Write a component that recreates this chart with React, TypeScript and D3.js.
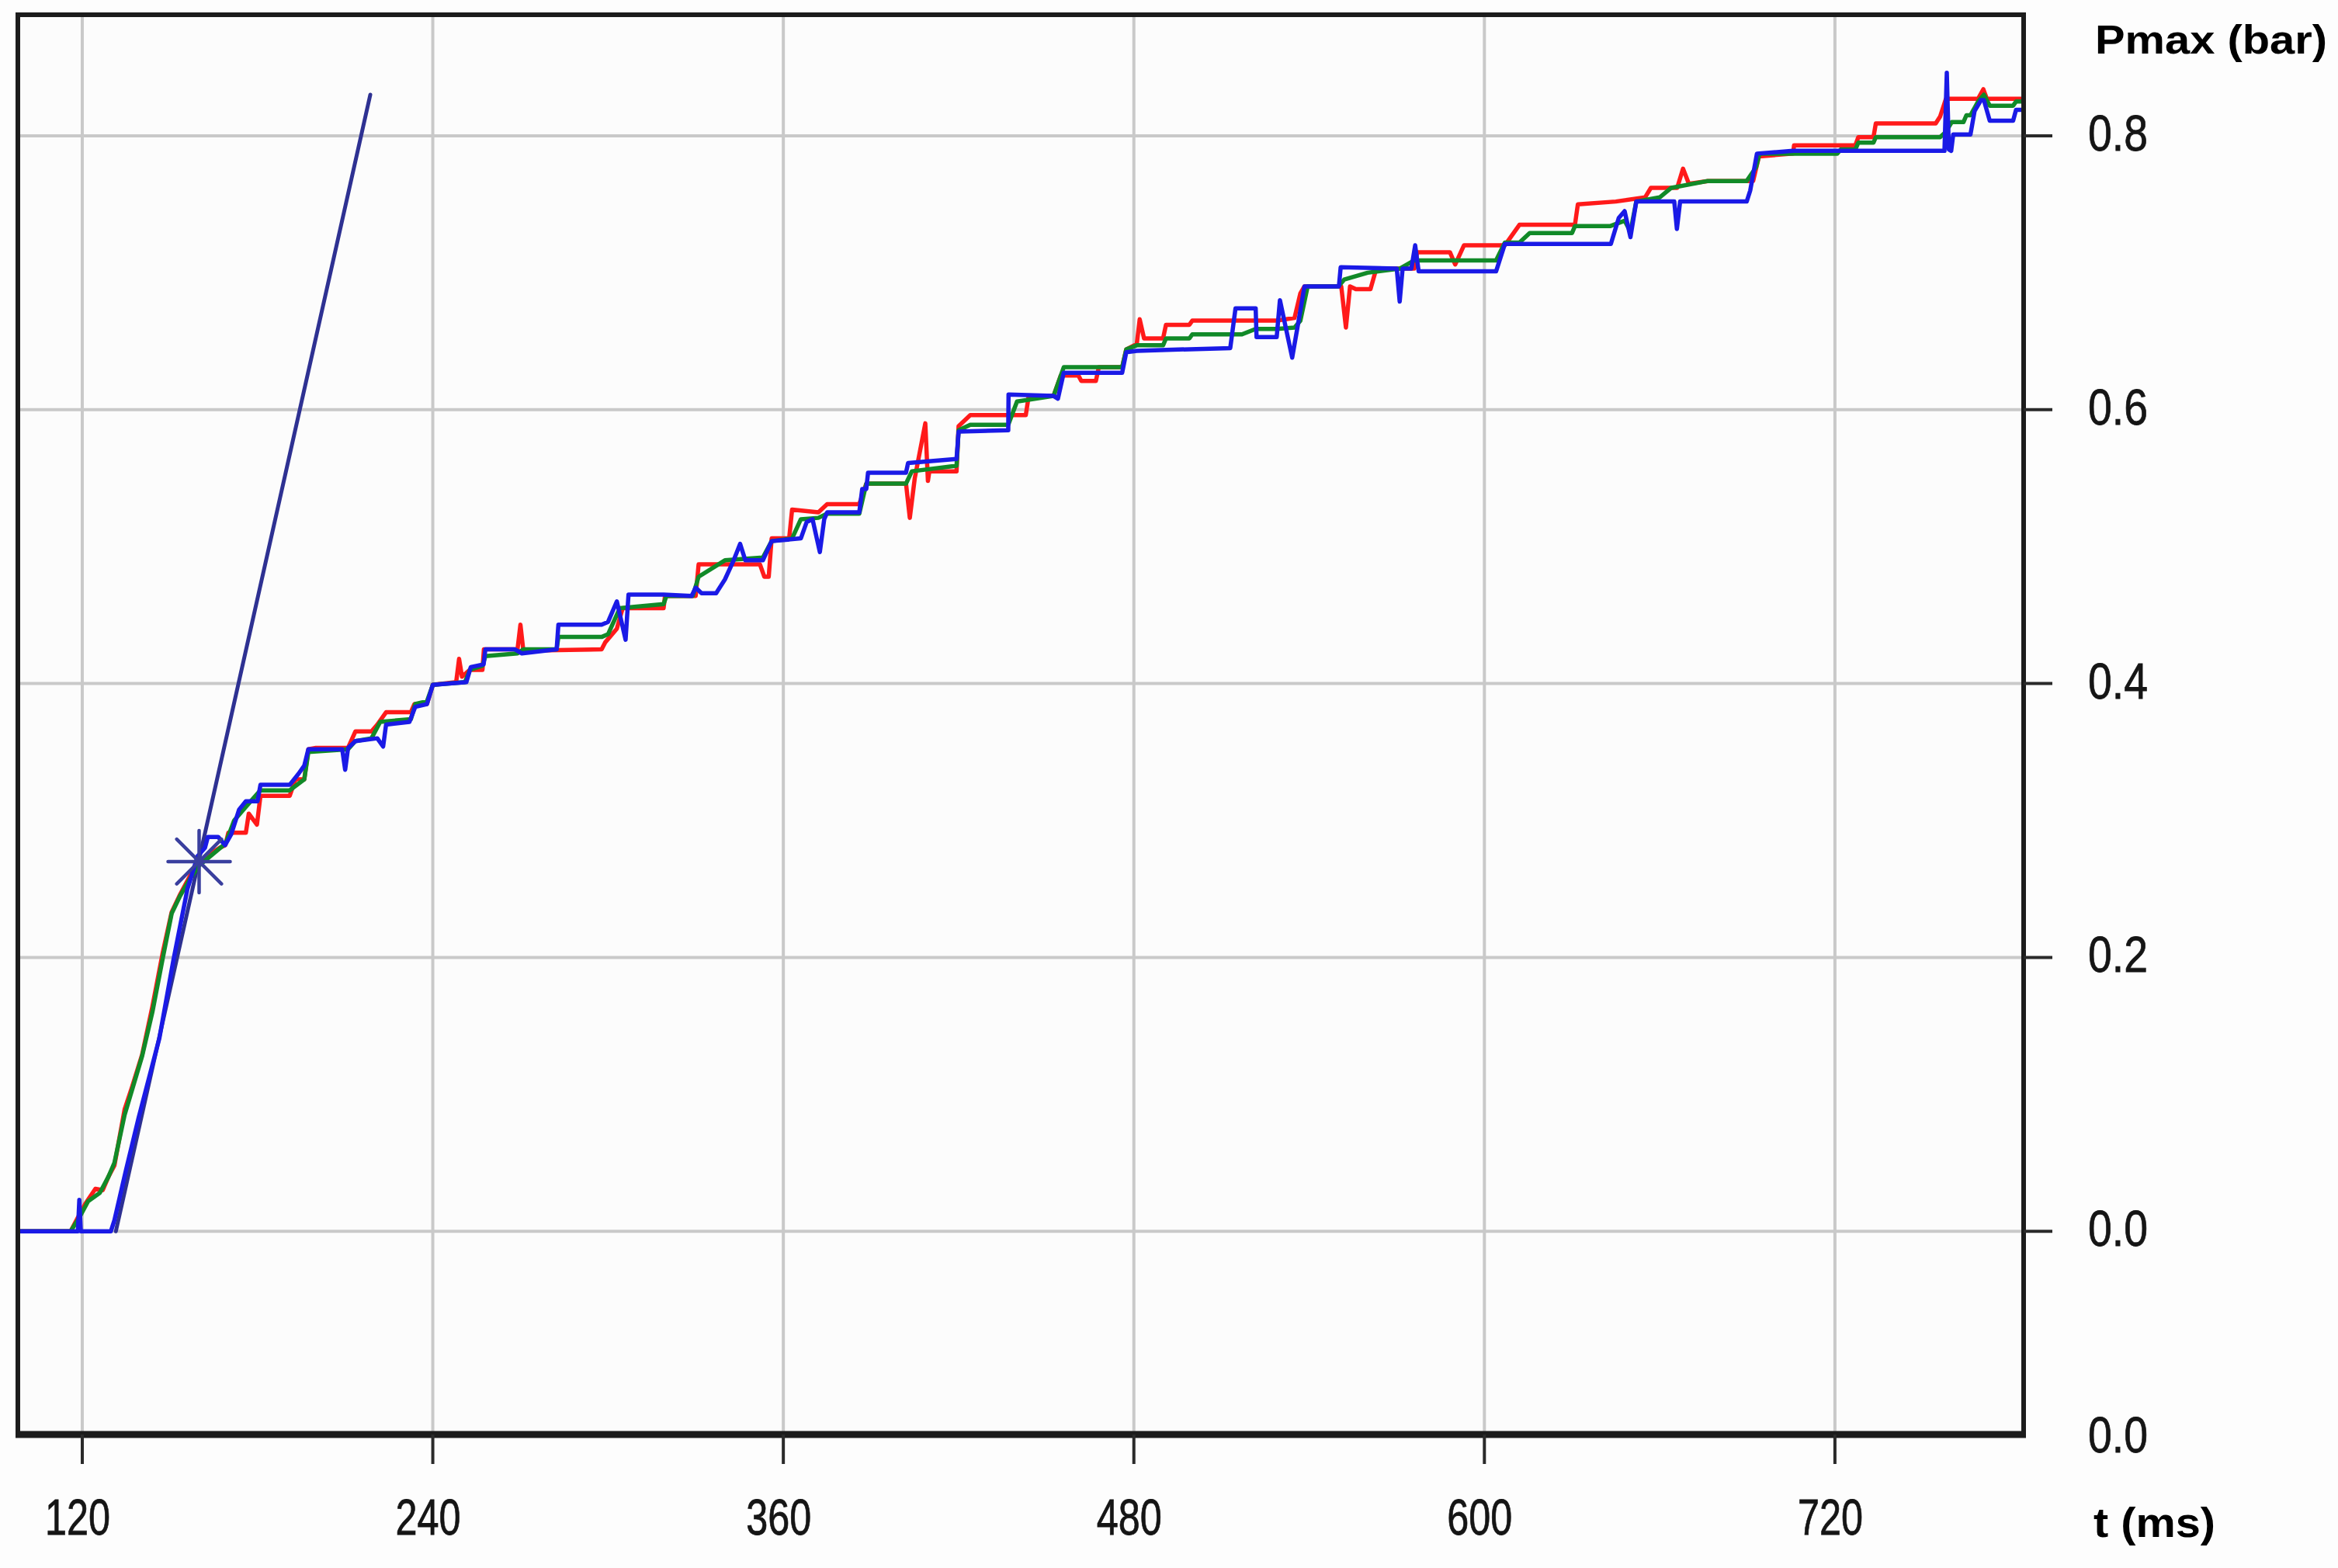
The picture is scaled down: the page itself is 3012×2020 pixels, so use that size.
import React from 'react';
import * as d3 from 'd3';

type Pt = [number, number];

const xTicks = [120, 240, 360, 480, 600, 720];
const yTicks = [0, 0.2, 0.4, 0.6, 0.8];
const yTickLabels = ['0.0', '0.2', '0.4', '0.6', '0.8'];
const bottomLabel = '0.0';
const xTitle = 't (ms)';
const yTitle = 'Pmax (bar)';

const redSeries: Pt[] = [
  [98, 0], [116, 0], [118, 0.008], [121, 0.02], [124.5, 0.031], [127, 0.03], [129, 0.04], [131, 0.048],
  [134.5, 0.089], [137, 0.105], [140.5, 0.129], [144, 0.164], [147.6, 0.204], [150.6, 0.233], [153.5, 0.246],
  [157, 0.26], [160, 0.268], [164, 0.276], [167, 0.28], [169, 0.282], [170, 0.291], [176, 0.291], [177, 0.305],
  [179.8, 0.297], [181, 0.318], [191, 0.318], [193, 0.33], [196, 0.33], [197.4, 0.352], [200, 0.353], [211, 0.353],
  [213.5, 0.365], [219, 0.365], [221, 0.37], [224, 0.379], [232.5, 0.379], [233.7, 0.385], [238, 0.385], [240, 0.399],
  [248, 0.401], [249, 0.418], [250, 0.405], [252.7, 0.41], [257, 0.41], [257.5, 0.425], [269, 0.425], [270, 0.443],
  [271, 0.424], [297.8, 0.425], [299, 0.43], [303, 0.44], [305, 0.455], [319, 0.455], [319.5, 0.464], [330, 0.464],
  [331, 0.487], [352, 0.487], [353.5, 0.478], [355, 0.478], [356, 0.506], [362, 0.506], [363, 0.527], [372, 0.525],
  [375, 0.531], [386, 0.531], [388.4, 0.546], [402, 0.546], [403.3, 0.521], [405, 0.55], [408.6, 0.59], [409.5, 0.548],
  [410, 0.555], [419.3, 0.555], [420, 0.588], [424, 0.596], [443, 0.596], [444, 0.61], [452.5, 0.61], [455, 0.625],
  [461, 0.625], [462, 0.621], [467, 0.621], [468, 0.631], [476, 0.631], [477.4, 0.644], [481, 0.648], [482, 0.666],
  [483.5, 0.652], [490, 0.652], [491, 0.662], [499, 0.662], [500, 0.665], [528.9, 0.665], [535, 0.667], [537, 0.685],
  [538.4, 0.69], [551, 0.69], [552.6, 0.66], [554, 0.69], [556, 0.688], [561, 0.688], [563, 0.703], [576, 0.703],
  [577, 0.715], [588.2, 0.715], [590, 0.706], [593, 0.72], [607, 0.72], [612, 0.735], [631, 0.735], [632, 0.75],
  [645, 0.752], [655, 0.755], [657, 0.762], [666, 0.762], [668, 0.776], [670, 0.765], [676.5, 0.767], [692, 0.767],
  [694, 0.785], [705.7, 0.787], [706, 0.793], [727, 0.793], [728, 0.799], [733.2, 0.799], [734, 0.809], [754.5, 0.809],
  [756, 0.814], [758, 0.827], [769, 0.827], [770.8, 0.834], [772, 0.827], [785, 0.827],
];

const greenSeries: Pt[] = [
  [98, 0], [116, 0], [119, 0.01], [122, 0.022], [126, 0.028], [129, 0.04], [131, 0.05], [134.5, 0.085],
  [140.5, 0.128], [144, 0.16], [147.6, 0.2], [150.6, 0.232], [153.5, 0.245], [157, 0.258], [160, 0.267], [165, 0.276],
  [169, 0.283], [172, 0.3], [176, 0.31], [181, 0.322], [191, 0.322], [196, 0.33], [197.4, 0.35], [211, 0.352],
  [213.5, 0.358], [219, 0.36], [222, 0.372], [232.5, 0.374], [234, 0.385], [238, 0.387], [240, 0.399], [251, 0.401],
  [252.7, 0.41], [257, 0.413], [258, 0.42], [269, 0.422], [271, 0.425], [282.4, 0.425], [283, 0.434], [297.8, 0.434],
  [300, 0.436], [304, 0.455], [319, 0.458], [320, 0.464], [329, 0.464], [331, 0.478], [340, 0.49], [353, 0.492],
  [356, 0.504], [363, 0.506], [366, 0.52], [372, 0.521], [375, 0.524], [386, 0.524], [388.4, 0.546], [402, 0.546],
  [404, 0.555], [419.3, 0.559], [420, 0.585], [424, 0.589], [437, 0.589], [440, 0.606], [452.5, 0.61], [456, 0.631],
  [476, 0.631], [477.4, 0.644], [481, 0.647], [490, 0.647], [491, 0.652], [499, 0.652], [500, 0.655], [517, 0.655],
  [521.7, 0.659], [528.9, 0.659], [535, 0.66], [537, 0.665], [539.5, 0.69], [550, 0.69], [552, 0.695], [560, 0.7],
  [571, 0.703], [576, 0.709], [604, 0.709], [607, 0.722], [612, 0.722], [615.5, 0.729], [630, 0.729], [631, 0.734],
  [643, 0.734], [648, 0.738], [650, 0.73], [652, 0.752], [660, 0.755], [664, 0.762], [676.5, 0.767], [689.8, 0.767],
  [693, 0.777], [694.2, 0.787], [720.8, 0.787], [722, 0.79], [727, 0.79], [728, 0.795], [733.2, 0.795], [734, 0.799],
  [756, 0.799], [758, 0.803], [760, 0.81], [764, 0.81], [765, 0.815], [766.4, 0.815], [769, 0.825], [771, 0.83],
  [773, 0.822], [781, 0.822], [782, 0.825], [785, 0.825],
];

const blueSeries: Pt[] = [
  [98, 0], [118.5, 0], [119, 0.023], [119.5, 0], [129.8, 0], [131, 0.008], [135, 0.045], [139.3, 0.083],
  [146.4, 0.141], [151.2, 0.198], [156, 0.25], [159.5, 0.274], [162, 0.28], [163, 0.288], [166.5, 0.288],
  [168.9, 0.282], [171, 0.29], [173.7, 0.308], [176, 0.314], [180, 0.314], [181, 0.326], [191, 0.326], [194, 0.334],
  [196, 0.34], [197.4, 0.352], [209, 0.352], [210, 0.337], [211, 0.353], [213.5, 0.358], [221, 0.36], [223, 0.354],
  [224, 0.37], [232, 0.372], [234, 0.383], [238, 0.385], [240, 0.399], [251.5, 0.401], [253, 0.412], [257.4, 0.414],
  [258, 0.425], [268, 0.425], [270.5, 0.422], [282.4, 0.425], [283, 0.443], [297.8, 0.443], [300, 0.445], [303, 0.46],
  [306, 0.432], [307, 0.465], [319, 0.465], [328.6, 0.464], [330, 0.47], [332, 0.466], [337, 0.466], [340, 0.476],
  [343, 0.49], [345.2, 0.502], [347, 0.49], [353, 0.49], [356, 0.504], [366, 0.506], [368, 0.518], [370, 0.52],
  [372.5, 0.496], [374, 0.52], [375, 0.525], [386, 0.525], [387, 0.542], [388.4, 0.542], [389, 0.554], [402, 0.554],
  [402.7, 0.561], [419.3, 0.564], [420, 0.584], [437, 0.585], [437.1, 0.611], [452.5, 0.61], [454, 0.608],
  [456, 0.627], [476, 0.627], [477.4, 0.642], [481, 0.643], [513, 0.645], [514.8, 0.674], [521.7, 0.674], [522, 0.653],
  [528.9, 0.653], [530, 0.68], [534.2, 0.638], [536, 0.66], [538.4, 0.69], [550.2, 0.69], [550.8, 0.704], [570, 0.703],
  [571, 0.679], [572, 0.703], [575, 0.703], [576.3, 0.72], [577.5, 0.701], [604, 0.701], [607, 0.721], [643.3, 0.721],
  [646, 0.74], [648, 0.745], [650, 0.726], [652, 0.752], [665, 0.752], [665.9, 0.732], [667, 0.752], [689.8, 0.752],
  [691, 0.76], [693.3, 0.787], [705.7, 0.789], [757.5, 0.789], [758.3, 0.846], [759, 0.79], [759.8, 0.789],
  [760.5, 0.801], [766.4, 0.801], [767.8, 0.818], [770, 0.826], [771, 0.826], [773, 0.811], [781, 0.811],
  [782, 0.819], [785, 0.819],
];

const tangentLine: Pt[] = [[131.5, 0], [218.6, 0.83]];
const markerPoint: Pt = [160, 0.27];

const W = 3012;
const H = 2020;
const plotLeft = 23;
const plotTop = 19;
const plotRight = 2607;
const plotBottom = 1848;

export default function App() {
  const x = d3.scaleLinear().domain([97.95, 784.6]).range([plotLeft, plotRight]);
  const y = d3.scaleLinear().domain([-0.1484, 0.8884]).range([plotBottom, plotTop]);
  const line = d3.line<Pt>().x((d) => x(d[0])).y((d) => y(d[1]));
  const font = "'Liberation Sans', Arial, sans-serif";
  const mx = x(markerPoint[0]);
  const my = y(markerPoint[1]);
  const r = 40;
  const rd = r * 0.72;

  return (
    <svg width={W} height={H} style={{ position: 'absolute', left: 0, top: 0, background: '#fdfdfd' }}>
      <defs>
        <clipPath id="plotClip">
          <rect x={plotLeft} y={plotTop} width={plotRight - plotLeft} height={plotBottom - plotTop} />
        </clipPath>
      </defs>
      <rect x={0} y={0} width={W} height={H} fill="#fdfdfd" />
      <rect x={plotLeft} y={plotTop} width={plotRight - plotLeft} height={plotBottom - plotTop} fill="#fcfcfc" />
      {xTicks.map((t) => (
        <line key={'gx' + t} x1={x(t)} x2={x(t)} y1={plotTop} y2={plotBottom} stroke="#c9c9c9" strokeWidth={4} />
      ))}
      {yTicks.map((v) => (
        <line key={'gy' + v} x1={plotLeft} x2={plotRight} y1={y(v)} y2={y(v)} stroke="#c9c9c9" strokeWidth={4} />
      ))}
      <g clipPath="url(#plotClip)" fill="none" strokeLinejoin="round" strokeLinecap="round">
        <path d={line(tangentLine) || ''} stroke="#2e3192" strokeWidth={5} />
        <path d={line(redSeries) || ''} stroke="#ff1a1a" strokeWidth={5.5} />
        <path d={line(greenSeries) || ''} stroke="#118a28" strokeWidth={5.5} />
        <path d={line(blueSeries) || ''} stroke="#1a1ae6" strokeWidth={5.5} />
        <g stroke="#3a3f9e" strokeWidth={4.5}>
          <line x1={mx - r} x2={mx + r} y1={my} y2={my} />
          <line x1={mx} x2={mx} y1={my - r} y2={my + r} />
          <line x1={mx - rd} x2={mx + rd} y1={my - rd} y2={my + rd} />
          <line x1={mx - rd} x2={mx + rd} y1={my + rd} y2={my - rd} />
        </g>
      </g>
      <rect x={plotLeft} y={plotTop} width={plotRight - plotLeft} height={plotBottom - plotTop} fill="none" stroke="#1c1c1c" strokeWidth={6} />
      <line x1={plotLeft - 3} x2={plotRight + 3} y1={plotBottom} y2={plotBottom} stroke="#1c1c1c" strokeWidth={9} />
      {xTicks.map((t) => (
        <g key={'xt' + t}>
          <line x1={x(t)} x2={x(t)} y1={plotBottom} y2={plotBottom + 38} stroke="#2a2a2a" strokeWidth={4} />
          <text x={x(t) - 6} y={1977} textAnchor="middle" fontFamily={font} fontSize={64} fill="#151515"
            stroke="#151515" strokeWidth={0.8} textLength={84} lengthAdjust="spacingAndGlyphs">{String(t)}</text>
        </g>
      ))}
      {yTicks.map((v, i) => (
        <g key={'yt' + v}>
          <line x1={plotRight} x2={plotRight + 37} y1={y(v)} y2={y(v)} stroke="#2a2a2a" strokeWidth={4} />
          <text x={2690} y={y(v) + 19} fontFamily={font} fontSize={64} fill="#151515" stroke="#151515" strokeWidth={0.8}
            textLength={77} lengthAdjust="spacingAndGlyphs">{yTickLabels[i]}</text>
        </g>
      ))}
      <text x={2690} y={plotBottom + 23} fontFamily={font} fontSize={64} fill="#151515" stroke="#151515" strokeWidth={0.8}
        textLength={77} lengthAdjust="spacingAndGlyphs">{bottomLabel}</text>
      <text x={2699} y={69} fontFamily={font} fontSize={52} fontWeight="bold" fill="#000"
        textLength={299} lengthAdjust="spacingAndGlyphs">{yTitle}</text>
      <text x={2697} y={1980} fontFamily={font} fontSize={54} fontWeight="bold" fill="#000"
        textLength={157} lengthAdjust="spacingAndGlyphs">{xTitle}</text>
    </svg>
  );
}
